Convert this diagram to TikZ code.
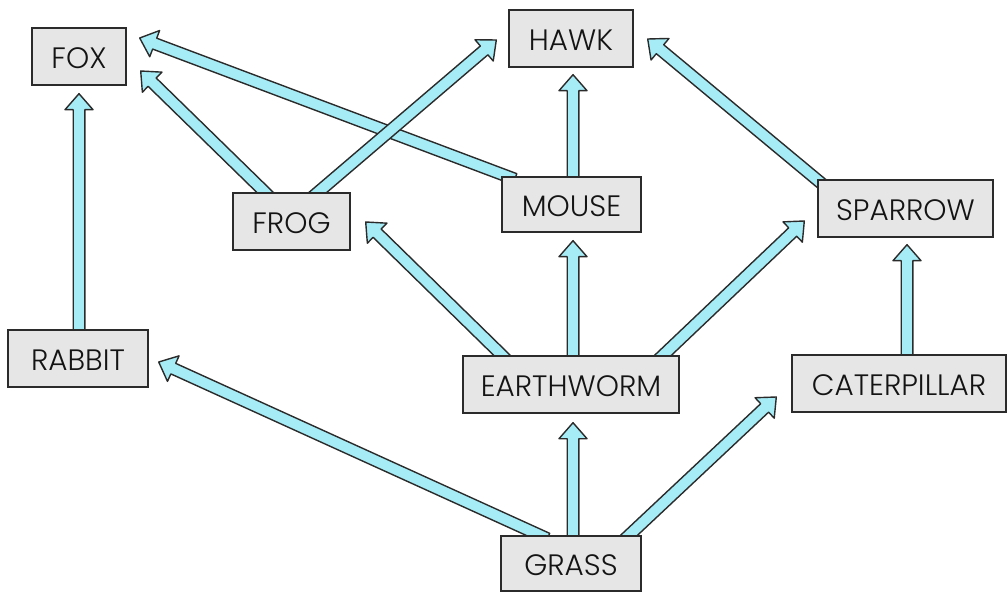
\documentclass[tikz,border=0pt]{standalone}
\usepackage{fontspec}
\setmainfont{Poppins}[UprightFont=* Light]
\usetikzlibrary{calc,backgrounds}
\definecolor{arrowfill}{HTML}{A6ECF6}
\definecolor{boxfill}{HTML}{E6E6E6}
\definecolor{inkline}{HTML}{2B2B2B}

% A wide outlined arrow from #1 to #2 (tip at #2); the tail is pushed
% a little back so it disappears under the box it leaves from.
\newcommand\feeds[2]{%
  \path (#1) coordinate (fa-a) (#2) coordinate (fa-e);
  \path ($(fa-a)!-8pt!(fa-e)$) coordinate (fa-s);
  \path ($(fa-e)!16pt!(fa-s)$) coordinate (fa-m);
  \filldraw[flow]
    ($(fa-s)!5.8pt!90:(fa-e)$) -- ($(fa-m)!5.8pt!-90:(fa-s)$)
    -- ($(fa-m)!14pt!-90:(fa-s)$) -- (fa-e)
    -- ($(fa-m)!14pt!90:(fa-s)$) -- ($(fa-m)!5.8pt!90:(fa-s)$)
    -- ($(fa-s)!5.8pt!-90:(fa-e)$) -- cycle;}

% organism name, sitting a touch low in its box
\newcommand\organism[1]{\raisebox{-1.5pt}[\height][0pt]{#1}}

\tikzset{
  box/.style={draw=inkline, fill=boxfill, line width=1.4pt, inner sep=0pt,
    font=\fontsize{29.5}{31}\selectfont, text=black!92},
  flow/.style={draw=inkline, fill=arrowfill, line width=1.4pt, line join=round}
}

\begin{document}
\begin{tikzpicture}[x=1pt, y=-1pt]
\useasboundingbox (0,0) rectangle (1008,593);

% organisms
\node[box, minimum width=94pt,  minimum height=57pt] (fox)         at (79,56.5)    {\organism{FOX}};
\node[box, minimum width=124pt, minimum height=57pt] (hawk)        at (571,38.5)   {\organism{HAWK}};
\node[box, minimum width=139pt, minimum height=55pt] (mouse)       at (571.5,204.5){\organism{MOUSE}};
\node[box, minimum width=117pt, minimum height=57pt] (frog)        at (291.5,221.5){\organism{FROG}};
\node[box, minimum width=175pt, minimum height=57pt] (sparrow)     at (905.5,208.5){\organism{SPARROW}};
\node[box, minimum width=214pt, minimum height=57pt] (caterpillar) at (899,383.5)  {\organism{CATERPILLAR}};
\node[box, minimum width=140pt, minimum height=57pt] (rabbit)      at (78,358.5)   {\organism{RABBIT}};
\node[box, minimum width=216pt, minimum height=57pt] (earthworm)   at (571,384.5)  {\organism{EARTHWORM}};
\node[box, minimum width=140pt, minimum height=55pt] (grass)       at (571,563.5)  {\organism{GRASS}};

% who eats whom
\begin{pgfonlayer}{background}
\feeds{$(rabbit.north)+(1,0)$}{$(fox.south)+(0,8)$}
\feeds{$(frog.north)+(-26.5,0)$}{$(fox.east)+(14,14.5)$}
\feeds{$(mouse.north west)+(6,0)$}{$(fox.east)+(13,-18.5)$}
\feeds{$(frog.north)+(26.5,0)$}{$(hawk.west)+(-12,1.5)$}
\feeds{$(mouse.north)+(1.5,0)$}{$(hawk.south)+(2,7)$}
\feeds{$(sparrow.north west)+(4,4)$}{$(hawk.east)+(14,0.5)$}
\feeds{$(earthworm.north)+(-69,0)$}{$(frog.east)+(15,0.5)$}
\feeds{$(earthworm.north)+(2,0)$}{$(mouse.south)+(1.5,8)$}
\feeds{$(earthworm.north)+(92,0)$}{$(sparrow.west)+(-13,12.5)$}
\feeds{$(caterpillar.north)+(8,0)$}{$(sparrow.south)+(1.5,7)$}
\feeds{$(grass.north)+(-31,0)$}{$(rabbit.east)+(10,3.5)$}
\feeds{$(grass.north)+(2,0)$}{$(earthworm.south)+(2,9)$}
\feeds{$(grass.north)+(58,0)$}{$(caterpillar.west)+(-15,13.5)$}
\end{pgfonlayer}
\end{tikzpicture}
\end{document}
